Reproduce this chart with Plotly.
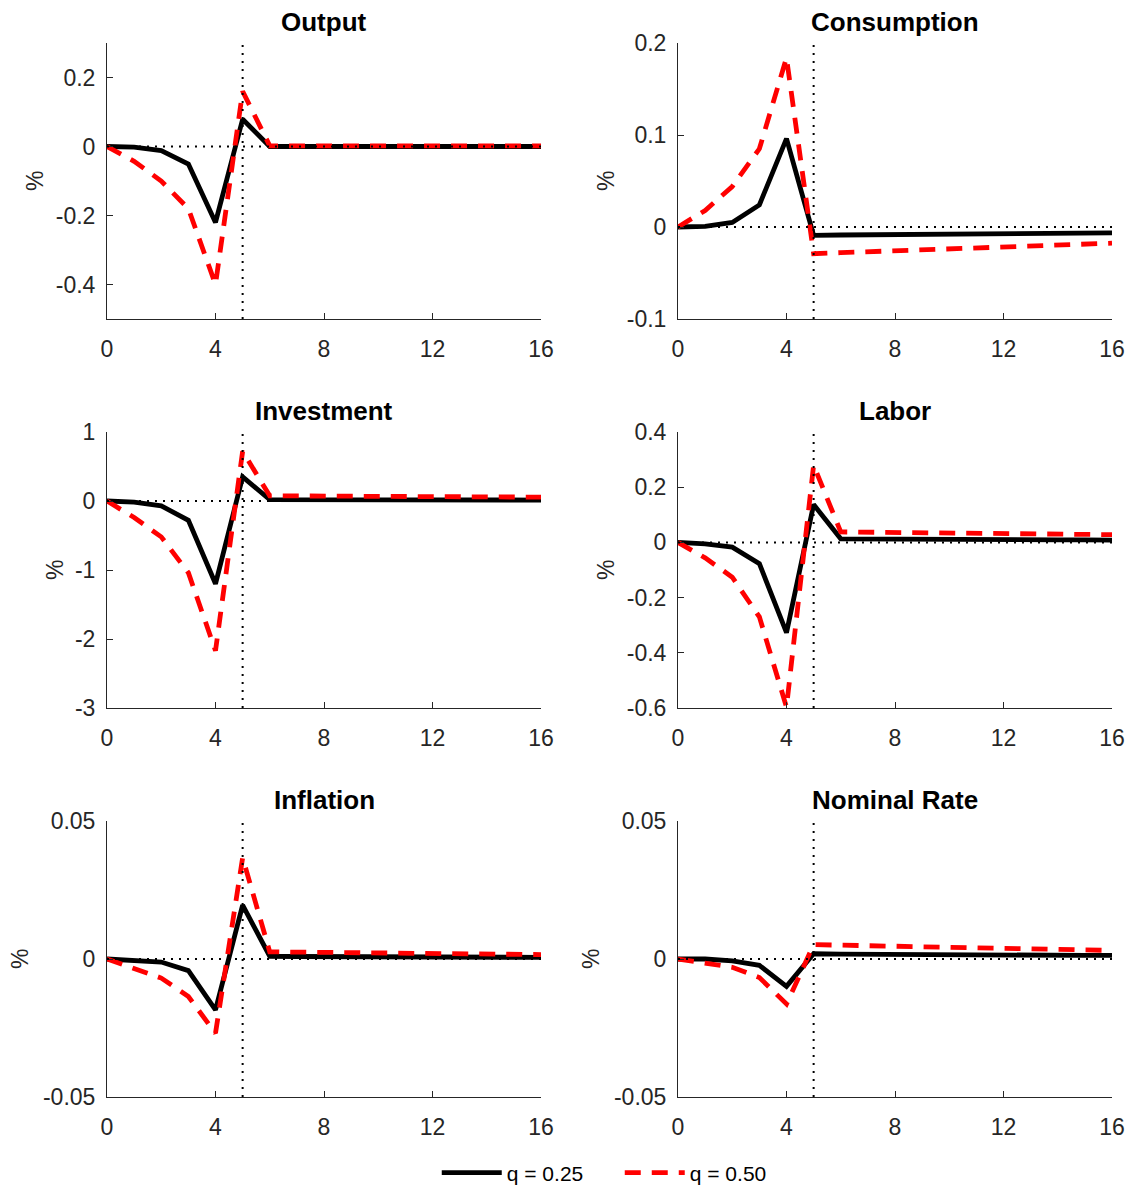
import plotly.graph_objects as go

periods = list(range(17))
shock_period = 5

titles = ["Output", "Consumption", "Investment", "Labor", "Inflation", "Nominal Rate"]

output_q25 = [0, -0.002, -0.012, -0.051, -0.22, 0.079, 0.0, 0.0, 0.0, 0.0, 0.0, 0.0, 0.0, 0.0, 0.0, 0.0, 0.0]
output_q50 = [0, -0.043, -0.10, -0.18, -0.40, 0.16, 0.002, 0.002, 0.002, 0.002, 0.002, 0.002, 0.002, 0.002, 0.002, 0.002, 0.002]

cons_q25 = [0, 0.0007, 0.005, 0.024, 0.096, -0.0090, -0.0087, -0.0085, -0.0082, -0.0079, -0.0077, -0.0074, -0.0072, -0.0069, -0.0067, -0.0065, -0.0063]
cons_q50 = [0, 0.018, 0.044, 0.085, 0.184, -0.029, -0.0279, -0.0268, -0.0258, -0.0248, -0.0238, -0.0228, -0.0218, -0.0208, -0.0199, -0.0188, -0.0176]

inv_q25 = [0, -0.015, -0.07, -0.28, -1.2, 0.35, 0.02, 0.02, 0.019, 0.018, 0.018, 0.017, 0.016, 0.016, 0.015, 0.015, 0.014]
inv_q50 = [0, -0.24, -0.52, -1.04, -2.17, 0.72, 0.075, 0.074, 0.072, 0.07, 0.068, 0.066, 0.064, 0.062, 0.06, 0.058, 0.056]

labor_q25 = [0, -0.005, -0.017, -0.077, -0.327, 0.137, 0.013, 0.012, 0.012, 0.011, 0.011, 0.010, 0.010, 0.009, 0.009, 0.009, 0.008]
labor_q50 = [0, -0.056, -0.126, -0.27, -0.597, 0.28, 0.038, 0.037, 0.036, 0.035, 0.034, 0.033, 0.032, 0.031, 0.030, 0.029, 0.028]

infl_q25 = [0, -0.0004, -0.0011, -0.0042, -0.0184, 0.0195, 0.0010, 0.0009, 0.0009, 0.0008, 0.0008, 0.0008, 0.0007, 0.0007, 0.0007, 0.0006, 0.0006]
infl_q50 = [0, -0.0036, -0.0069, -0.0136, -0.0269, 0.0367, 0.0026, 0.0025, 0.0024, 0.0023, 0.0022, 0.0021, 0.0020, 0.0019, 0.0018, 0.0017, 0.0016]

rate_q25 = [0, 0.0, -0.0007, -0.0023, -0.0099, 0.0019, 0.0018, 0.0017, 0.0017, 0.0016, 0.0016, 0.0015, 0.0015, 0.0014, 0.0014, 0.0013, 0.0013]
rate_q50 = [0, -0.0015, -0.0030, -0.0067, -0.0163, 0.0052, 0.0050, 0.0048, 0.0046, 0.0044, 0.0043, 0.0041, 0.0039, 0.0037, 0.0035, 0.0033, 0.0031]

series_q25 = [output_q25, cons_q25, inv_q25, labor_q25, infl_q25, rate_q25]
series_q50 = [output_q50, cons_q50, inv_q50, labor_q50, infl_q50, rate_q50]

y_ranges = [[-0.5, 0.3], [-0.1, 0.2], [-3, 1], [-0.6, 0.4], [-0.05, 0.05], [-0.05, 0.05]]
y_ticks = [[-0.4, -0.2, 0, 0.2], [-0.1, 0, 0.1, 0.2], [-3, -2, -1, 0, 1],
           [-0.6, -0.4, -0.2, 0, 0.2, 0.4], [-0.05, 0, 0.05], [-0.05, 0, 0.05]]
y_ticklabels = [["-0.4", "-0.2", "0", "0.2"], ["-0.1", "0", "0.1", "0.2"], ["-3", "-2", "-1", "0", "1"],
                ["-0.6", "-0.4", "-0.2", "0", "0.2", "0.4"], ["-0.05", "0", "0.05"], ["-0.05", "0", "0.05"]]
x_ticks = [0, 4, 8, 12, 16]

legend_names = ["q = 0.25", "q = 0.50"]

W, H = 1133, 1191
col_px = [(107, 541), (678, 1112)]
row_px = [(43, 319), (432, 708), (821, 1097)]
ylabel_x_px = [35, 606, 55, 606, 20, 591]

FONT = "Liberation Sans, Arial, Helvetica, sans-serif"
AXC = "#262626"

fig = go.Figure()
layout = dict(
    width=W, height=H, margin=dict(l=0, r=0, t=0, b=0, autoexpand=False),
    paper_bgcolor="white", plot_bgcolor="white",
    font=dict(family=FONT, color=AXC, size=23),
    showlegend=True,
    legend=dict(orientation="h", x=0.547, xanchor="center", y=1 - 1173 / H, yanchor="middle",
                font=dict(size=21, color="black"), bgcolor="rgba(0,0,0,0)",
                itemwidth=60, tracegroupgap=0, entrywidth=108, entrywidthmode="pixels"),
)
annotations = []
shapes = []

for i in range(6):
    r, c = divmod(i, 2)
    k = i + 1
    xn = "x" if k == 1 else f"x{k}"
    yn = "y" if k == 1 else f"y{k}"
    xa = "xaxis" if k == 1 else f"xaxis{k}"
    ya = "yaxis" if k == 1 else f"yaxis{k}"
    x0, x1 = col_px[c]
    yt, yb = row_px[r]
    layout[xa] = dict(domain=[x0 / W, x1 / W], anchor=yn, range=[0, 16], tickvals=x_ticks,
                      ticks="inside", ticklen=6, tickcolor=AXC, showline=True, linecolor=AXC,
                      linewidth=1, showgrid=False, zeroline=False, ticklabelstandoff=9,
                      tickfont=dict(size=23, color=AXC), automargin=False)
    layout[ya] = dict(domain=[1 - yb / H, 1 - yt / H], anchor=xn, range=y_ranges[i],
                      tickvals=y_ticks[i], ticktext=y_ticklabels[i],
                      ticks="inside", ticklen=6, tickcolor=AXC, showline=True, linecolor=AXC,
                      linewidth=1, showgrid=False, zeroline=False, ticklabelstandoff=6,
                      tickfont=dict(size=23, color=AXC), automargin=False)
    fig.add_trace(go.Scatter(x=periods, y=series_q25[i], xaxis=xn, yaxis=yn, mode="lines",
                             line=dict(color="black", width=4.8), name=legend_names[0],
                             legendgroup="a", showlegend=(i == 0)))
    fig.add_trace(go.Scatter(x=periods, y=series_q50[i], xaxis=xn, yaxis=yn, mode="lines",
                             line=dict(color="#ff0000", width=4.8, dash="16px,11px"), name=legend_names[1],
                             legendgroup="b", showlegend=(i == 0)))
    shapes.append(dict(type="line", xref=f"{xn} domain", yref=yn, x0=0, x1=1, y0=0, y1=0,
                       line=dict(color="black", width=2, dash="2px,6px"), layer="above"))
    shapes.append(dict(type="line", xref=xn, yref=f"{yn} domain", x0=shock_period, x1=shock_period,
                       y0=0, y1=1, line=dict(color="black", width=2, dash="2px,6px"), layer="above"))
    annotations.append(dict(text=f"<b>{titles[i]}</b>", xref="paper", yref="paper",
                            x=(x0 + x1) / 2 / W, y=1 - (yt - 21) / H, xanchor="center", yanchor="middle",
                            showarrow=False, font=dict(size=26, color="black", family=FONT)))
    annotations.append(dict(text="%", xref="paper", yref="paper", textangle=-90,
                            x=ylabel_x_px[i] / W, y=1 - (yt + yb) / 2 / H, xanchor="center",
                            yanchor="middle", showarrow=False, font=dict(size=23, color=AXC, family=FONT)))

layout["annotations"] = annotations
layout["shapes"] = shapes
fig.update_layout(**layout)
fig.write_html("out.html", config={"displayModeBar": False},
               post_script="document.body.style.margin='0px';document.body.style.overflow='hidden';")
